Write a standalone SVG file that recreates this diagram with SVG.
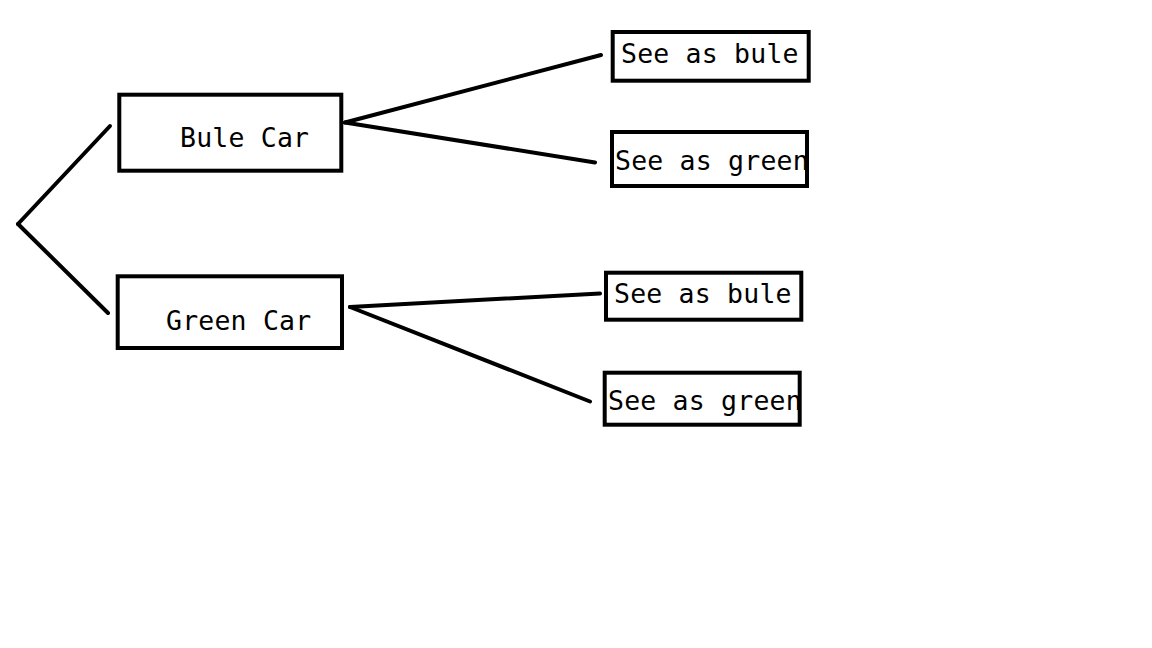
<svg xmlns="http://www.w3.org/2000/svg" width="1152" height="648" viewBox="0 0 1152 648">
<style>
.box{fill:#fff;stroke:#000;stroke-width:4}
.lbl{font-family:"DejaVu Sans Mono","Liberation Mono",monospace;font-size:26.5px;letter-spacing:0.2px;fill:#000}
.con line{stroke:#000;stroke-width:4;stroke-linecap:round}
</style>
<rect width="1152" height="648" fill="#fff"/>
<g id="connectors" class="con">
<line x1="110" y1="126" x2="18" y2="224"/>
<line x1="18" y1="224" x2="108" y2="313"/>
<line x1="345" y1="122.5" x2="601" y2="55"/>
<line x1="345" y1="122.5" x2="595" y2="162.5"/>
<line x1="350" y1="307" x2="600" y2="293.5"/>
<line x1="350" y1="307" x2="590" y2="401.5"/>
</g>
<g id="bule-car">
<rect class="box" x="119.3" y="94.7" width="222" height="76"/>
<text class="lbl" x="180" y="147">Bule Car</text>
</g>
<g id="green-car">
<rect class="box" x="117.7" y="276.3" width="224.3" height="71.7"/>
<text class="lbl" x="166" y="330">Green Car</text>
</g>
<g id="blue-see-bule">
<rect class="box" x="612.7" y="32" width="196" height="48.7"/>
<text class="lbl" x="621" y="63">See as bule</text>
</g>
<g id="blue-see-green">
<rect class="box" x="612" y="132" width="195" height="54"/>
<text class="lbl" x="615" y="170">See as green</text>
</g>
<g id="green-see-bule">
<rect class="box" x="606" y="272.7" width="195.3" height="47"/>
<text class="lbl" x="614" y="302.7">See as bule</text>
</g>
<g id="green-see-green">
<rect class="box" x="604.7" y="372.7" width="195" height="52"/>
<text class="lbl" x="608" y="409.5">See as green</text>
</g>
</svg>
